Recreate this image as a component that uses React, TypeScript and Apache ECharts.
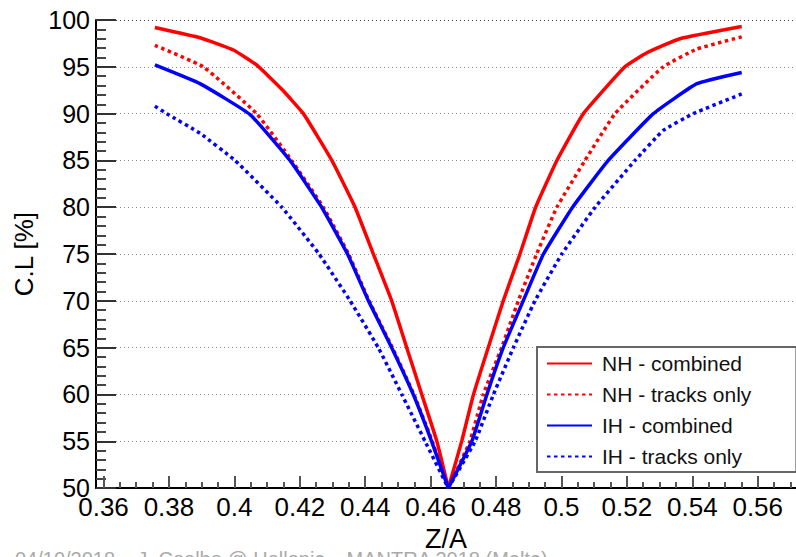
import React, { useEffect, useRef } from "react";
import * as echarts from "echarts";

// Tick labels / positions
const xTickLabels = [0.36, 0.38, 0.4, 0.42, 0.44, 0.46, 0.48, 0.5, 0.52, 0.54, 0.56];
const xMinorTicks = [
  0.365, 0.37, 0.375, 0.385, 0.39, 0.395, 0.405, 0.41, 0.415, 0.425, 0.43, 0.435,
  0.445, 0.45, 0.455, 0.465, 0.47, 0.475, 0.485, 0.49, 0.495, 0.505, 0.51, 0.515,
  0.525, 0.53, 0.535, 0.545, 0.55, 0.555, 0.565, 0.57,
];

const legendNames = ["NH - combined", "NH - tracks only", "IH - combined", "IH - tracks only"];

// NH - combined
const nhCombLeft = [
  [0.3757, 99.2], [0.3895, 98.1], [0.3997, 96.8], [0.4068, 95.2], [0.4145, 92.6], [0.4211, 90],
  [0.4298, 85], [0.4369, 80], [0.4425, 75], [0.4481, 70], [0.4527, 65], [0.4573, 60],
  [0.4619, 55], [0.4654, 50],
];
const nhCombRight = [
  [0.4654, 50], [0.4695, 55], [0.4731, 60], [0.4776, 65], [0.4822, 70], [0.4873, 75],
  [0.4921, 80], [0.4986, 85], [0.5067, 90], [0.5194, 95], [0.5261, 96.5], [0.5362, 98.0],
  [0.5551, 99.3],
];

// NH - tracks only
const nhTrkLeft = [
  [0.3757, 97.3], [0.3905, 95], [0.4068, 90], [0.4175, 85], [0.4272, 80], [0.4349, 75],
  [0.4412, 70], [0.4483, 65], [0.4549, 60], [0.4605, 55], [0.4654, 50],
];
const nhTrkRight = [
  [0.4654, 50], [0.472, 55], [0.4761, 60], [0.4817, 65], [0.4868, 70], [0.4924, 75],
  [0.4986, 80], [0.5072, 85], [0.5164, 90], [0.5311, 95], [0.5414, 96.9], [0.5551, 98.2],
];

// IH - combined
const ihCombLeft = [
  [0.3757, 95.2], [0.3895, 93.2], [0.4048, 89.9], [0.417, 85], [0.4267, 80], [0.4346, 75],
  [0.441, 70], [0.4481, 65], [0.4547, 60], [0.4603, 55], [0.4654, 50],
];
const ihCombRight = [
  [0.4654, 50], [0.4726, 55], [0.4772, 60], [0.4822, 65], [0.4883, 70], [0.4945, 75],
  [0.5034, 80], [0.5143, 85], [0.5281, 90], [0.5414, 93.2], [0.5551, 94.4],
];

// IH - tracks only
const ihTrkLeft = [
  [0.3757, 90.8], [0.3793, 90], [0.3895, 87.9], [0.4002, 85], [0.4145, 80], [0.4259, 75],
  [0.4354, 70], [0.444, 65], [0.4512, 60], [0.4583, 55], [0.4654, 50],
];
const ihTrkRight = [
  [0.4654, 50], [0.4736, 55], [0.4792, 60], [0.4853, 65], [0.4919, 70], [0.5001, 75],
  [0.5103, 80], [0.5225, 85], [0.5311, 88.2], [0.5403, 90], [0.5551, 92.1],
];

const RED = "#ff0000";
const BLUE = "#0000ff";
const FONT = "'Liberation Sans', Arial, Helvetica, sans-serif";

function mkSeries(name: string, data: number[][], color: string, dotted: boolean) {
  return {
    type: "line",
    name,
    data,
    xAxisIndex: 0,
    yAxisIndex: 0,
    symbol: "none",
    showSymbol: false,
    smooth: 0.12,
    itemStyle: { color },
    lineStyle: {
      color,
      width: 3.5,
      type: dotted ? [3.5, 3.5] : "solid",
      cap: "butt",
    },
    emphasis: { disabled: true },
  };
}

export default function App() {
  const ref = useRef<HTMLDivElement>(null);

  useEffect(() => {
    if (!ref.current) return;
    const chart = echarts.init(ref.current, null, { renderer: "svg" });
    const splitColors = ["#888", "#888", "#888", "#888", "#888", "#888", "#888", "#888", "#888", "#888", "#444"];
    chart.setOption({
      animation: false,
      backgroundColor: "#ffffff",
      textStyle: { fontFamily: FONT },
      grid: { left: 96, right: 0, top: 20, bottom: 59, containLabel: false },
      xAxis: [
        {
          type: "value",
          min: 0.3577,
          max: 0.5717,
          position: "bottom",
          name: "Z/A",
          nameLocation: "middle",
          nameGap: 34,
          nameTextStyle: { fontSize: 27, color: "#000", fontFamily: FONT },
          axisLine: { show: true, lineStyle: { color: "#000", width: 2 } },
          axisTick: {
            show: true,
            inside: true,
            length: 12,
            customValues: xTickLabels,
            lineStyle: { color: "#555", width: 2 },
          },
          axisLabel: {
            customValues: xTickLabels,
            fontSize: 26,
            color: "#000",
            margin: 6,
            fontFamily: FONT,
          },
          splitLine: { show: false },
        },
        {
          type: "value",
          min: 0.3577,
          max: 0.5717,
          position: "bottom",
          offset: 0,
          axisLine: { show: false },
          axisTick: {
            show: true,
            inside: true,
            length: 6,
            customValues: xMinorTicks,
            lineStyle: { color: "#555", width: 2 },
          },
          axisLabel: { show: false },
          splitLine: { show: false },
        },
      ],
      yAxis: {
        type: "value",
        min: 50,
        max: 100,
        interval: 5,
        name: "C.L [%]",
        nameLocation: "middle",
        nameGap: 55,
        nameTextStyle: { fontSize: 26, color: "#000", fontFamily: FONT },
        axisLine: { show: true, lineStyle: { color: "#000", width: 2 } },
        axisTick: { show: true, inside: true, length: 20, lineStyle: { color: "#333", width: 2 } },
        minorTick: { show: true, splitNumber: 5, length: 10, lineStyle: { color: "#444", width: 2 } },
        axisLabel: { fontSize: 25, color: "#000", margin: 6, fontFamily: FONT },
        splitLine: { show: true, lineStyle: { color: splitColors, type: [1, 3], width: 1 } },
        minorSplitLine: { show: false },
      },
      legend: {
        data: legendNames,
        orient: "vertical",
        left: 537,
        top: 347,
        itemWidth: 45,
        itemHeight: 14,
        itemGap: 10,
        padding: [6, 45, 5, 9],
        backgroundColor: "#ffffff",
        borderColor: "#666",
        borderWidth: 2,
        borderRadius: 0,
        selectedMode: false,
        itemStyle: { opacity: 0, borderWidth: 0 },
        textStyle: { fontSize: 21, color: "#111", fontFamily: FONT, padding: [0, 0, 0, 5] },
      },
      graphic: [
        {
          type: "text",
          left: 15,
          top: 549,
          z: 0,
          style: {
            text: "04/10/2018    J. Coelho @ Hellenic    MANTRA 2018 (Malta)    ...",
            fill: "#aaa",
            fontSize: 20,
            fontFamily: FONT,
          },
        },
      ],
      series: [
        mkSeries(legendNames[0], nhCombLeft, RED, false),
        mkSeries(legendNames[0], nhCombRight, RED, false),
        mkSeries(legendNames[1], nhTrkLeft, RED, true),
        mkSeries(legendNames[1], nhTrkRight, RED, true),
        mkSeries(legendNames[2], ihCombLeft, BLUE, false),
        mkSeries(legendNames[2], ihCombRight, BLUE, false),
        mkSeries(legendNames[3], ihTrkLeft, BLUE, true),
        mkSeries(legendNames[3], ihTrkRight, BLUE, true),
      ],
    });
    return () => chart.dispose();
  }, []);

  return (
    <div
      ref={ref}
      style={{ position: "fixed", left: 0, top: 0, width: 796, height: 557, background: "#fff" }}
    />
  );
}
